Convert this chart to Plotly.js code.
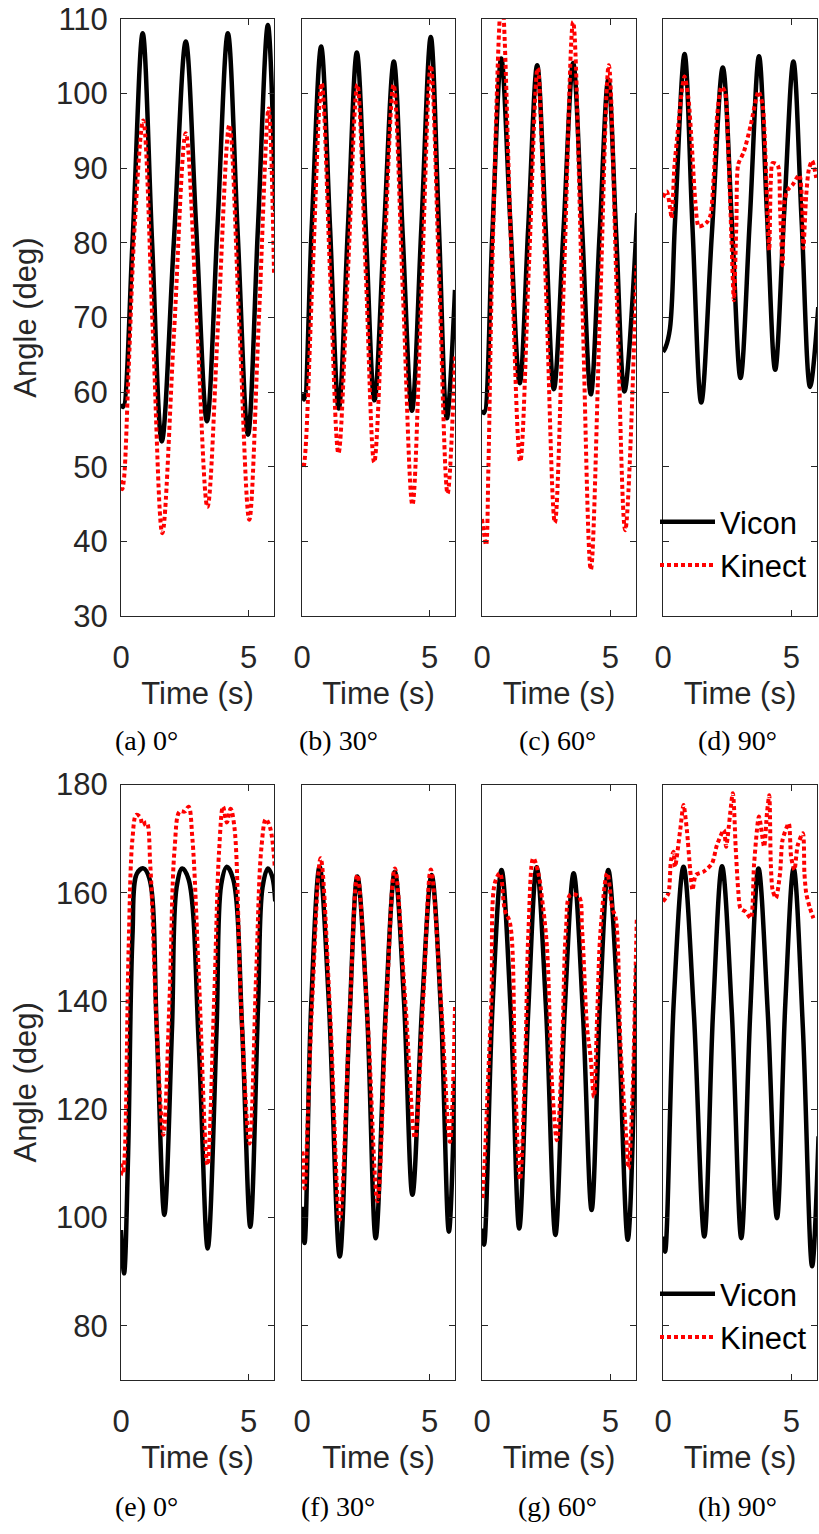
<!DOCTYPE html>
<html>
<head>
<meta charset="utf-8">
<script src="https://cdn.plot.ly/plotly-3.0.1.min.js"></script>
<style>html,body{margin:0;padding:0;background:#fff;}#chart{width:819px;height:1534px;}</style>
</head>
<body>
<div id="chart"></div>
<script>
// ---------- data (time in s, angle in deg) ----------
const aViconT = [0, 0.08, 0.45, 0.85, 1.22, 1.6, 2.07, 2.54, 2.95, 3.37, 3.78, 4.19, 4.58, 4.98, 5.37, 5.76, 6.05];
const aViconV = [58.4, 58.0, 80, 108.1, 80, 53.4, 80, 107.0, 82, 56.1, 82, 108.1, 81, 54.3, 82, 109.2, 84.2];
const aKinectT = [0, 0.05, 0.12, 0.3, 0.55, 0.87, 1.25, 1.62, 2.08, 2.54, 2.97, 3.39, 3.82, 4.25, 4.64, 5.03, 5.41, 5.79, 6.0];
const aKinectV = [48.2, 47.0, 48.5, 63, 83, 96.4, 68, 41.1, 68, 94.7, 70, 44.6, 70, 95.8, 69, 42.9, 70, 98.0, 76.0];

const bViconT = [0, 0.08, 0.38, 0.75, 1.1, 1.44, 1.8, 2.15, 2.5, 2.84, 3.22, 3.6, 3.95, 4.31, 4.68, 5.05, 5.37, 5.68, 6.0];
const bViconV = [59.8, 59.0, 82, 106.3, 82, 57.8, 82, 105.5, 82, 58.9, 82, 104.3, 81, 57.5, 82, 107.6, 82, 56.5, 73.7];
const bKinectT = [0, 0.05, 0.12, 0.42, 0.77, 1.1, 1.43, 1.8, 2.17, 2.5, 2.83, 3.21, 3.59, 3.96, 4.33, 4.69, 5.05, 5.38, 5.71, 6.0];
const bKinectV = [50.5, 49.8, 51.5, 76, 101.4, 76, 51.8, 76, 101.2, 76, 50.6, 76, 101.2, 73, 44.9, 74, 103.8, 75, 46.4, 65];

const cViconT = [0, 0.08, 0.4, 0.75, 1.1, 1.47, 1.8, 2.15, 2.48, 2.8, 3.18, 3.55, 3.9, 4.24, 4.58, 4.92, 5.23, 5.55, 6.05];
const cViconV = [57.6, 57.2, 81, 104.7, 83, 61.2, 82, 103.8, 82, 60.4, 82, 104.1, 82, 59.7, 81, 101.9, 81, 60.1, 84];
const cKinectT = [0, 0.08, 0.16, 0.25, 0.4, 0.77, 1.13, 1.49, 1.83, 2.17, 2.5, 2.84, 3.2, 3.55, 3.9, 4.24, 4.59, 4.94, 5.26, 5.58, 6.02];
const cKinectV = [43, 41, 39.5, 50, 77, 113, 80, 50.7, 77, 103.4, 73, 42.5, 76, 109.6, 73, 36.2, 70, 103.8, 72, 41.5, 77];

const dViconT = [0, 0.1, 0.27, 0.47, 0.84, 1.15, 1.49, 1.9, 2.33, 2.68, 3.02, 3.38, 3.74, 4.05, 4.37, 4.72, 5.08, 5.4, 5.73, 6.05];
const dViconV = [65.4, 66, 68.5, 83, 105.3, 82, 58.6, 81, 103.5, 83, 61.9, 83, 105, 84, 63, 84, 104.3, 83, 60.7, 71.4];
const dKinectT = [0, 0.15, 0.27, 0.34, 0.44, 0.6, 0.73, 0.84, 0.99, 1.13, 1.26, 1.39, 1.58, 1.72, 1.85, 1.98, 2.11, 2.28, 2.41, 2.54, 2.67, 2.76, 2.86, 2.93, 3.15, 3.42, 3.72, 3.88, 3.98, 4.07, 4.14, 4.2, 4.27, 4.47, 4.56, 4.66, 4.73, 4.86, 5.05, 5.31, 5.42, 5.47, 5.58, 5.68, 5.81, 5.97];
const dKinectV = [86.1, 86.9, 84.8, 83.3, 90, 95.8, 100.3, 102.3, 99.4, 92.7, 85.5, 82.2, 82.4, 82.8, 83.7, 89.1, 97.1, 100.9, 100.3, 92.7, 80.2, 72.3, 82.8, 90.5, 92.2, 95.8, 100.3, 98.5, 92.7, 83.7, 79, 88.2, 90.7, 90.4, 84.6, 77, 85.5, 87.1, 87.8, 89.1, 85.5, 79.3, 86.4, 89.8, 91, 88.7];

const eViconT = [0, 0.12, 0.28, 0.45, 0.62, 0.88, 1.12, 1.4, 1.7, 2.0, 2.18, 2.4, 2.65, 3.05, 3.4, 3.75, 3.93, 4.15, 4.4, 4.75, 5.07, 5.38, 5.55, 5.76, 5.93, 6.05];
const eViconV = [97.7, 89.7, 112, 152, 163.5, 164.5, 162.5, 135, 100.5, 135, 161, 164.5, 162.5, 132, 94.3, 135, 161.5, 164.8, 162.5, 135, 98.3, 140, 161, 164.5, 163, 158.4];
const eKinectT = [0, 0.08, 0.15, 0.3, 0.45, 0.6, 0.75, 0.85, 1.0, 1.15, 1.4, 1.66, 1.9, 2.1, 2.3, 2.5, 2.65, 2.8, 3.05, 3.39, 3.65, 3.85, 4.0, 4.15, 4.3, 4.45, 4.7, 5.04, 5.3, 5.5, 5.68, 5.85, 6.03];
const eKinectV = [110, 108, 112, 150, 170, 174.4, 174, 172.5, 173, 165, 135, 115.3, 140, 168, 175, 175, 175.9, 170, 145, 109.7, 140, 168, 175.9, 173, 175.5, 172, 140, 113.7, 145, 168, 173.6, 172, 164.8];

const fViconT = [0, 0.1, 0.35, 0.69, 1.05, 1.48, 1.85, 2.17, 2.55, 2.89, 3.28, 3.64, 4.0, 4.33, 4.72, 5.08, 5.45, 5.76, 6.0];
const fViconV = [102, 95.3, 138, 164.8, 140, 92.8, 135, 163, 138, 96.2, 138, 163.9, 140, 104.2, 140, 163.3, 138, 97.4, 126];
const fKinectT = [0, 0.05, 0.1, 0.4, 0.73, 1.1, 1.48, 1.85, 2.17, 2.58, 2.96, 3.3, 3.64, 4.05, 4.43, 4.75, 5.05, 5.45, 5.8, 6.0];
const fKinectV = [112.2, 110, 105.4, 140, 166.4, 138, 99.6, 135, 163.3, 136, 103, 138, 164.5, 140, 114.7, 140, 164.3, 140, 114, 139];

const gViconT = [0, 0.08, 0.4, 0.76, 1.12, 1.45, 1.8, 2.13, 2.5, 2.86, 3.22, 3.57, 3.93, 4.27, 4.6, 4.92, 5.3, 5.68, 6.03];
const gViconV = [98, 95, 138, 164.2, 138, 98, 138, 164.7, 138, 96.8, 138, 163.6, 138, 101.4, 140, 164.2, 138, 95.9, 147];
const gKinectT = [0.02, 0.1, 0.24, 0.37, 0.5, 0.7, 0.89, 1.09, 1.29, 1.48, 1.68, 1.81, 2.0, 2.2, 2.33, 2.53, 2.72, 2.92, 3.12, 3.27, 3.44, 3.77, 3.9, 4.1, 4.23, 4.36, 4.49, 4.62, 4.88, 5.08, 5.21, 5.4, 5.6, 5.71, 5.86, 5.99, 6.03];
const gKinectV = [103.6, 110, 126, 140.8, 161.8, 163.6, 156.8, 154.4, 125.4, 107, 128.5, 153.1, 166.4, 163.5, 159.3, 150, 125.4, 114.3, 131.6, 153.1, 159.6, 159.3, 153.1, 134.7, 129.7, 122.3, 137.7, 153.1, 163.6, 157.1, 155.3, 131.6, 116.2, 109.1, 122.3, 147, 155];

const hViconT = [0, 0.08, 0.42, 0.8, 1.2, 1.61, 1.95, 2.3, 2.68, 3.05, 3.4, 3.72, 4.08, 4.44, 4.77, 5.09, 5.45, 5.81, 6.06];
const hViconV = [96.5, 93.7, 140, 164.8, 138, 96.5, 138, 164.9, 138, 96.2, 138, 164.5, 138, 99.9, 140, 164.5, 135, 91, 115];
const hKinectT = [0, 0.21, 0.31, 0.41, 0.47, 0.67, 0.8, 0.93, 1.06, 1.15, 1.28, 1.58, 1.91, 2.1, 2.37, 2.46, 2.72, 2.83, 2.93, 3.02, 3.22, 3.42, 3.55, 3.74, 3.94, 4.05, 4.14, 4.2, 4.27, 4.4, 4.56, 4.66, 4.9, 4.99, 5.12, 5.25, 5.45, 5.51, 5.58, 5.71, 5.86];
const hKinectV = [158.4, 159.9, 166, 167.6, 164.8, 171.6, 176.2, 171.6, 164.2, 160.5, 163.3, 163.9, 165.4, 168.8, 171.6, 168.5, 178.4, 168.5, 160.5, 157.1, 156.5, 155.3, 165.4, 174.1, 168.5, 174.7, 178, 165.4, 160.5, 159, 163.6, 169.8, 172.8, 166.7, 164.2, 168.8, 171, 163.6, 159.9, 157.4, 155.3];

const captions = ['(a) 0°', '(b) 30°', '(c) 60°', '(d) 90°', '(e) 0°', '(f) 30°', '(g) 60°', '(h) 90°'];
const seriesNames = ['Vicon', 'Kinect'];
const xTitle = 'Time (s)';
const yTitle = 'Angle (deg)';

// ---------- layout helpers ----------
const W = 819, H = 1534;
const panels = [
  [aViconT, aViconV, aKinectT, aKinectV], [bViconT, bViconV, bKinectT, bKinectV],
  [cViconT, cViconV, cKinectT, cKinectV], [dViconT, dViconV, dKinectT, dKinectV],
  [eViconT, eViconV, eKinectT, eKinectV], [fViconT, fViconV, fKinectT, fKinectV],
  [gViconT, gViconV, gKinectT, gKinectV], [hViconT, hViconV, hKinectT, hKinectV]
];
const colPx = [[121, 274], [302, 455], [482, 636], [663, 817]];
const rowPx = [[19, 616], [784.5, 1380]];
const capX = [146, 338, 557, 737];
const capY = [740, 1506];
const FONT = 'Liberation Sans, Arial, Helvetica, sans-serif';
const AX = '#262626';

const traces = [];
const layout = {
  width: W, height: H,
  margin: {l: 0, r: 0, t: 0, b: 0},
  paper_bgcolor: '#fff', plot_bgcolor: '#fff',
  showlegend: true,
  annotations: [],
  legend: {x: 655 / W, xanchor: 'left', y: 1 - 495 / H, yanchor: 'top',
           font: {family: FONT, size: 31, color: '#000'}, bgcolor: 'rgba(0,0,0,0)',
           borderwidth: 0, itemwidth: 55, tracegroupgap: 0},
  legend2: {x: 655 / W, xanchor: 'left', y: 1 - 1267 / H, yanchor: 'top',
           font: {family: FONT, size: 31, color: '#000'}, bgcolor: 'rgba(0,0,0,0)',
           borderwidth: 0, itemwidth: 55, tracegroupgap: 0}
};

panels.forEach((p, i) => {
  const row = i < 4 ? 0 : 1, col = i % 4;
  const n = i + 1;
  const xa = 'x' + (n === 1 ? '' : n), ya = 'y' + (n === 1 ? '' : n);
  const legendShow = (col === 3);
  const legendId = row === 0 ? 'legend' : 'legend2';
  traces.push({x: p[0], y: p[1], xaxis: xa, yaxis: ya, type: 'scatter', mode: 'lines',
    name: seriesNames[0], showlegend: legendShow, legend: legendId,
    line: {color: '#000', width: 4.5, shape: 'spline', smoothing: 1}, hoverinfo: 'skip'});
  traces.push({x: p[2], y: p[3], xaxis: xa, yaxis: ya, type: 'scatter', mode: 'lines',
    name: seriesNames[1], showlegend: legendShow, legend: legendId,
    line: {color: '#ff0000', width: 4, dash: '4px,3px', shape: 'spline', smoothing: (col === 3 ? 0.7 : 1)}, hoverinfo: 'skip'});

  const common = {showline: true, linecolor: AX, linewidth: 1, mirror: 'ticks', ticks: 'inside',
    ticklen: 6, tickwidth: 1, tickcolor: AX, showgrid: false, zeroline: false, fixedrange: true,
    tickfont: {family: FONT, size: 31, color: AX}};
  layout['xaxis' + (n === 1 ? '' : n)] = Object.assign({}, common, {
    domain: [colPx[col][0] / W, colPx[col][1] / W], range: [0, 6], tick0: 0, dtick: 5,
    anchor: ya, ticklabelstandoff: 14,
    title: {text: xTitle, font: {family: FONT, size: 31, color: AX}, standoff: 8}
  });
  const yAx = Object.assign({}, common, {
    domain: [1 - rowPx[row][1] / H, 1 - rowPx[row][0] / H], anchor: xa,
    showticklabels: col === 0, ticklabelstandoff: 6
  });
  if (row === 0) { yAx.range = [30, 110]; yAx.tick0 = 30; yAx.dtick = 10; }
  else { yAx.range = [70, 180]; yAx.tick0 = 80; yAx.dtick = 20; }
  if (col === 0) yAx.title = {text: yTitle, font: {family: FONT, size: 31, color: AX}, standoff: 10};
  layout['yaxis' + (n === 1 ? '' : n)] = yAx;

  layout.annotations.push({text: captions[i], xref: 'paper', yref: 'paper',
    x: capX[col] / W, y: 1 - capY[row] / H, xanchor: 'center', yanchor: 'middle', showarrow: false,
    font: {family: 'Liberation Serif, Times New Roman, serif', size: 28, color: '#000'}});
});

Plotly.newPlot('chart', traces, layout, {staticPlot: true, displayModeBar: false});
</script>
</body>
</html>
